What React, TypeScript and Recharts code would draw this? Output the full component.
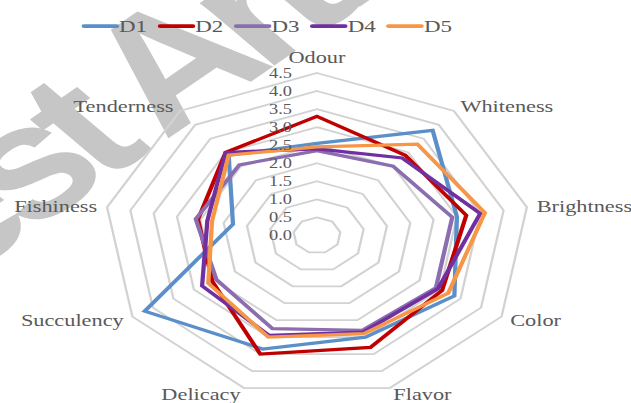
import React from "react";
import {
  RadarChart,
  Radar,
  PolarGrid,
  PolarAngleAxis,
  PolarRadiusAxis,
} from "recharts";

const attributes = [
  "Odour",
  "Whiteness",
  "Brightness",
  "Color",
  "Flavor",
  "Delicacy",
  "Succulency",
  "Fishiness",
  "Tenderness",
];

const d1 = [2.55, 3.8, 3.0, 3.35, 3.0, 3.35, 4.2, 1.8, 2.9];
const d2 = [3.3, 2.9, 3.2, 3.05, 3.3, 3.5, 2.55, 2.55, 3.0];
const d3 = [2.35, 2.5, 2.9, 2.9, 2.8, 2.75, 2.45, 2.6, 2.55];
const d4 = [2.4, 2.8, 3.5, 2.95, 2.85, 2.95, 2.8, 2.35, 3.0];
const d5 = [2.45, 3.3, 3.6, 3.2, 2.9, 3.0, 2.65, 2.25, 2.9];

const radiusTicks = [0, 0.5, 1, 1.5, 2, 2.5, 3, 3.5, 4, 4.5];

const seriesNames = ["D1", "D2", "D3", "D4", "D5"];
const seriesValues = [d1, d2, d3, d4, d5];
const seriesColors = ["#5B8FC9", "#C00000", "#8B6DB0", "#7030A0", "#F79646"];

const data = attributes.map((name, i) => {
  const row: Record<string, string | number> = { name };
  seriesNames.forEach((s, j) => {
    row[s] = seriesValues[j][i];
  });
  return row;
});

// the reference is stretched sideways, so the chart is drawn narrow and scaled
const STRETCH = 1.3125;
const W = 481;
const H = 403;
const CX = 241.5;
const CY = 235.4;
const R = 162.4;
const SERIF = '"Liberation Serif", "Times New Roman", serif';
const TEXT = "#595959";

function AngleTick(props: any) {
  const { payload } = props;
  const idx = attributes.indexOf(payload.value);
  const t = (idx * 40 * Math.PI) / 180;
  const s = Math.sin(t);
  const c = Math.cos(t);
  const vx = CX + R * s;
  const vy = CY - R * c;
  const anchor = Math.abs(s) < 0.1 ? "middle" : s > 0 ? "start" : "end";
  const x = vx + 7.6 * s;
  const y = anchor === "middle" ? vy - 15.5 : vy - 6 * c;
  return (
    <text
      x={x}
      y={y}
      textAnchor={anchor}
      dominantBaseline="central"
      fontFamily={SERIF}
      fontSize={17}
      fill={TEXT}
    >
      {payload.value}
    </text>
  );
}

function RadiusTick(props: any) {
  const { x, y, payload } = props;
  return (
    <text
      x={x - 19}
      y={y}
      textAnchor="end"
      dominantBaseline="central"
      fontFamily={SERIF}
      fontSize={14}
      fill={TEXT}
    >
      {Number(payload.value).toFixed(1)}
    </text>
  );
}

function Legend() {
  return (
    <div style={{ position: "absolute", left: 61.7, top: 17, display: "flex" }}>
      {seriesNames.map((s, i) => (
        <div
          key={s}
          style={{ width: 58.1, display: "flex", alignItems: "center", height: 18 }}
        >
          <svg width={29} height={10}>
            <line
              x1={2}
              y1={5}
              x2={27}
              y2={5}
              stroke={seriesColors[i]}
              strokeWidth={3.75}
              strokeLinecap="round"
            />
          </svg>
          <span
            style={{ fontFamily: SERIF, fontSize: 17.5, color: TEXT, lineHeight: "18px" }}
          >
            {s}
          </span>
        </div>
      ))}
    </div>
  );
}

export default function App() {
  return (
    <div
      style={{
        position: "absolute",
        left: 0,
        top: 0,
        width: W,
        height: H,
        transform: `scaleX(${STRETCH})`,
        transformOrigin: "0 0",
        background: "#fff",
      }}
    >
      <svg
        width={W}
        height={H}
        style={{ position: "absolute", left: 0, top: 0 }}
      >
        <text
          x={-87}
          y={332}
          transform="rotate(-42 -87 332)"
          fontFamily='"Liberation Sans", Arial, sans-serif'
          fontWeight="bold"
          fontSize={160}
          letterSpacing={-14}
          fill="#C6C6C6"
        >
          Test Article
        </text>
      </svg>
      <div style={{ position: "absolute", left: 0, top: 0 }}>
        <RadarChart
          width={W}
          height={H}
          data={data}
          cx={CX}
          cy={CY}
          outerRadius={R}
          margin={{ top: 0, right: 0, bottom: 0, left: 0 }}
        >
          <PolarGrid
            gridType="polygon"
            radialLines={false}
            stroke="#D2D2D2"
            strokeWidth={1.75}
          />
          <PolarAngleAxis
            dataKey="name"
            tick={<AngleTick />}
            axisLine={false}
            tickLine={false}
          />
          <PolarRadiusAxis
            type="number"
            angle={90}
            domain={[0, 4.5]}
            allowDataOverflow
            allowDecimals
            ticks={radiusTicks as any}
            tickCount={10}
            tick={<RadiusTick />}
            axisLine={false}
            tickLine={false}
          />
          {seriesNames.map((s, i) => (
            <Radar
              key={s}
              name={s}
              dataKey={s}
              stroke={seriesColors[i]}
              strokeWidth={3.25}
              fill="none"
              fillOpacity={0}
              dot={false}
              isAnimationActive={false}
            />
          ))}
        </RadarChart>
      </div>
      <Legend />
    </div>
  );
}
